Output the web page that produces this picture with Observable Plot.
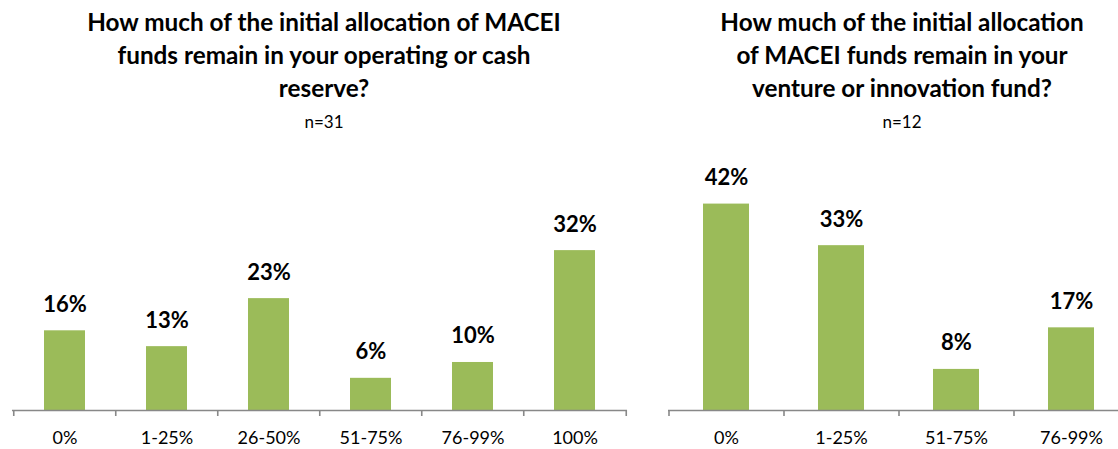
<!DOCTYPE html>
<html>
<head>
<meta charset="utf-8">
<script src="https://cdn.jsdelivr.net/npm/d3@7"></script>
<script src="https://cdn.jsdelivr.net/npm/@observablehq/plot@0.6"></script>
<style>
  html, body { margin: 0; padding: 0; background: #fff; overflow: hidden; }
  #wrap { position: relative; width: 1118px; height: 449px; overflow: hidden; font-family: Lato, "Open Sans", sans-serif; background: #fff; }
  .panel { position: absolute; top: 0; }
  .panel svg { max-width: none !important; }
  .title { position: absolute; text-align: center; font-weight: bold; font-size: 24.3px; line-height: 33px; color: #000; white-space: nowrap; z-index: 2; }
  .sub { position: absolute; text-align: center; color: #000; white-space: nowrap; z-index: 2; line-height: 20px; }
</style>
</head>
<body>
<div id="wrap">
  <div class="panel" id="p1" style="left:0px; width:640px;"></div>
  <div class="panel" id="p2" style="left:640px; width:500px;"></div>
  <div class="title" id="t1" style="left:24px; width:600px; top:5px;">How much of the initial allocation of MACEI<br>funds remain in your operating or cash<br>reserve?</div>
  <div class="sub" id="s1" style="left:24px; width:600px; top:112px; font-size:17px;">n=31</div>
  <div class="title" id="t2" style="left:602px; width:600px; top:5px;">How much of the initial allocation<br>of MACEI funds remain in your<br>venture or innovation fund?</div>
  <div class="sub" id="s2" style="left:602px; width:600px; top:112px; font-size:17px;">n=12</div>
</div>
<script>
// Panel 1: operating or cash reserve (n=31)
const cats1 = ["0%", "1-25%", "26-50%", "51-75%", "76-99%", "100%"];
const vals1 = [16.1, 12.9, 22.6, 6.5, 9.7, 32.3];
const labels1 = ["16%", "13%", "23%", "6%", "10%", "32%"];

// Panel 2: venture or innovation fund (n=12)
const cats2 = ["0%", "1-25%", "51-75%", "76-99%"];
const vals2 = [41.7, 33.3, 8.3, 16.7];
const labels2 = ["42%", "33%", "8%", "17%"];

const GREEN = "#9BBB59";
const AXIS = "#888888";
const H = 449;

function panel(cats, vals, labels, width, ml, mr) {
  const data = cats.map((c, i) => ({cat: c, v: vals[i], lab: labels[i]}));
  const mb = 39, mt = 162.5;
  const plotW = width - ml - mr;
  const plotH = H - mt - mb;
  const step = plotW / cats.length;
  return Plot.plot({
    width, height: H,
    marginLeft: ml, marginRight: mr, marginTop: mt, marginBottom: mb,
    style: {fontFamily: "Lato, 'Open Sans', sans-serif", background: "transparent", overflow: "visible", maxWidth: "none"},
    x: {domain: cats, paddingInner: 0.6, paddingOuter: 0.3},
    y: {domain: [0, 50], axis: null},
    marks: [
      Plot.barY(data, {x: "cat", y: "v", fill: GREEN}),
      Plot.ruleY([0], {stroke: AXIS, strokeWidth: 1.6}),
      Plot.ruleX(cats, {x: d => d, dx: -step / 2, stroke: AXIS, strokeWidth: 1.6, insetTop: plotH, insetBottom: -6}),
      Plot.ruleX(cats.slice(-1), {x: d => d, dx: step / 2, stroke: AXIS, strokeWidth: 1.6, insetTop: plotH, insetBottom: -6}),
      Plot.text(data, {x: "cat", y: "v", text: "lab", dy: -19, lineAnchor: "bottom", fontSize: 22, fontWeight: "bold", fill: "#000"}),
      Plot.axisX({tickSize: 0, tickPadding: 21, fontSize: 18, label: null, color: "#000"})
    ]
  });
}

document.getElementById("p1").appendChild(panel(cats1, vals1, labels1, 640, 12, 13));
document.getElementById("p2").appendChild(panel(cats2, vals2, labels2, 500, 28, 12));
</script>
</body>
</html>
